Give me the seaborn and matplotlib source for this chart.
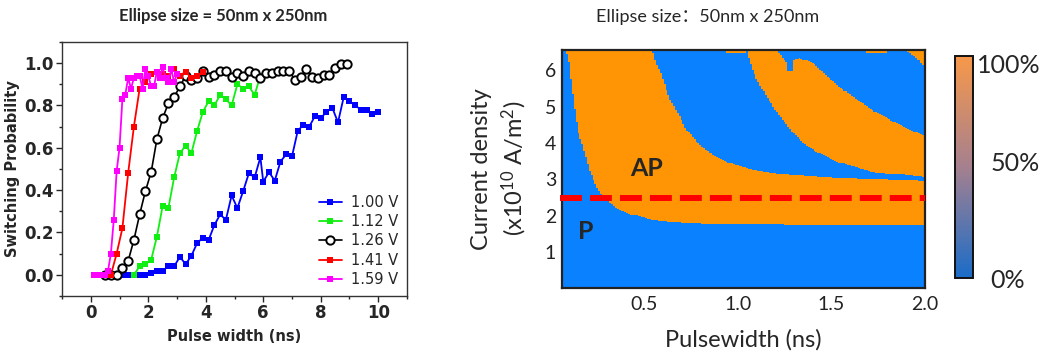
import numpy as np
import matplotlib
matplotlib.use('Agg')
import matplotlib.pyplot as plt
from matplotlib.colors import ListedColormap, LinearSegmentedColormap
from matplotlib.ticker import MultipleLocator, FixedLocator
import matplotlib.cm as cm
import seaborn as sns

sns.set_style('ticks')
plt.rcParams['font.family'] = ['DejaVu Sans']
plt.rcParams['mathtext.default'] = 'regular'

# ---- linker Teil: Schaltwahrscheinlichkeit ----
x_100 = list(np.round(np.arange(0.7, 5.95, 0.2), 1)) + list(np.round(np.arange(6.0, 10.05, 0.2), 1))
p_100 = [0, 0, 0, 0, 0, 0, 0, 0.01, 0.02, 0.02, 0.04, 0.04, 0.085, 0.05, 0.09, 0.15, 0.175,
         0.165, 0.235, 0.285, 0.26, 0.375, 0.315, 0.395, 0.48, 0.46, 0.555,
         0.44, 0.485, 0.445, 0.535, 0.57, 0.56, 0.68, 0.71, 0.70, 0.75, 0.74, 0.77, 0.79,
         0.72, 0.84, 0.82, 0.80, 0.78, 0.78, 0.76, 0.77]
x_112 = np.round(np.arange(1.5, 5.95, 0.2), 1)
p_112 = [0, 0.04, 0.05, 0.07, 0.18, 0.325, 0.315, 0.46, 0.575, 0.61, 0.575, 0.68, 0.77,
         0.82, 0.80, 0.85, 0.83, 0.80, 0.90, 0.88, 0.89, 0.85, 0.94]
x_126 = np.round(np.arange(0.5, 8.95, 0.2), 1)
p_126 = [0, 0, 0, 0.03, 0.065, 0.165, 0.285, 0.395, 0.485, 0.64, 0.74, 0.81, 0.84, 0.89,
         0.94, 0.92, 0.93, 0.965, 0.935, 0.945, 0.965, 0.965, 0.935, 0.955, 0.94, 0.965,
         0.955, 0.93, 0.955, 0.955, 0.965, 0.965, 0.965, 0.92, 0.935, 0.97, 0.935, 0.93,
         0.945, 0.945, 0.975, 0.995, 0.995]
x_141 = np.round(np.arange(0.1, 3.95, 0.2), 1)
p_141 = [0, 0, 0, 0, 0.10, 0.22, 0.48, 0.70, 0.88, 0.91, 0.95, 0.96, 0.95, 0.94, 0.97,
         0.94, 0.96, 0.93, 0.94, 0.96]
x_159 = np.round(np.arange(0.1, 3.05, 0.1), 1)
p_159 = [0, 0, 0, 0, 0, 0.02, 0.10, 0.26, 0.49, 0.60, 0.83, 0.85, 0.93, 0.88, 0.93,
         0.94, 0.94, 0.88, 0.97, 0.94, 0.89, 0.89, 0.96, 0.93, 0.98, 0.93, 0.91, 0.97,
         0.91, 0.95]

labels = ['1.00 V', '1.12 V', '1.26 V', '1.41 V', '1.59 V']
colors = ['#0000ff', '#11ee11', '#000000', '#ff0000', '#ff00ff']

# ---- rechter Teil: Phasendiagramm (Grenzkurven J(x)) ----
b1_x = [0.083, 0.10, 0.128, 0.148, 0.185, 0.205, 0.24, 0.268, 0.35, 0.44, 0.546, 0.67, 0.8, 1.0, 1.5, 2.0]
b1_J = [6.6, 6.2, 5.0, 4.3, 3.72, 3.31, 2.85, 2.63, 2.21, 2.03, 1.89, 1.83, 1.80, 1.78, 1.77, 1.76]
b2_x = [0.546, 0.554, 0.59, 0.635, 0.70, 0.72, 0.795, 0.866, 0.955, 1.08, 1.26, 1.535, 2.0]
b2_J = [6.6, 6.33, 5.92, 5.23, 4.64, 4.41, 3.95, 3.68, 3.45, 3.27, 3.13, 3.04, 2.97]
b3_x = [1.045, 1.07, 1.106, 1.16, 1.22, 1.29, 1.36, 1.45, 1.535, 1.72, 2.0]
b3_J = [6.6, 6.15, 5.69, 5.23, 4.77, 4.32, 3.95, 3.68, 3.48, 3.21, 3.07]
b4_x = [1.20, 1.26, 1.272, 1.29, 1.30, 1.33, 1.40, 1.47, 1.54, 1.72, 1.90, 2.0]
b4_J = [6.6, 6.2, 5.95, 5.95, 6.3, 6.33, 6.2, 5.87, 5.55, 4.9, 4.4, 4.2]
corner_x = [1.88, 1.95, 2.0]
corner_J = [6.6, 6.35, 6.1]
strip_x0 = [0.94, 1.69]
strip_x1 = [1.04, 1.79]
strip_J = [6.47, 6.47]

pw = np.linspace(0.05, 2.0, 196)
jj = np.linspace(0.0, 6.6, 265)

fig = plt.figure(figsize=(10.53, 3.6), dpi=100)

# ================= linkes Diagramm =================
ax1 = fig.add_axes([0.0589, 0.1778, 0.3276, 0.7056])
series = [(x_100, p_100), (x_112, p_112), (x_126, p_126), (x_141, p_141), (x_159, p_159)]
for (xs, ps), lab, c in zip(series, labels, colors):
    if lab == '1.26 V':
        sns.lineplot(x=xs, y=ps, ax=ax1, color=c, linewidth=1.2, marker='o', markersize=6,
                     markerfacecolor='white', markeredgecolor=c, markeredgewidth=1.4,
                     label=lab, estimator=None, sort=False)
    else:
        sns.lineplot(x=xs, y=ps, ax=ax1, color=c, linewidth=1.3, marker='s', markersize=4.8,
                     markerfacecolor=c, markeredgecolor=c, markeredgewidth=0,
                     label=lab, estimator=None, sort=False)

ax1.set_xlim(-1, 11)
ax1.set_ylim(-0.1, 1.1)
ax1.set_xticks([0, 2, 4, 6, 8, 10])
ax1.set_xticklabels(['0', '2', '4', '6', '8', '10'], fontweight='bold')
ax1.xaxis.set_minor_locator(FixedLocator([-1, 1, 3, 5, 7, 9, 11]))
ax1.set_yticks([0, 0.2, 0.4, 0.6, 0.8, 1.0])
ax1.set_yticklabels(['0.0', '0.2', '0.4', '0.6', '0.8', '1.0'], fontweight='bold')
ax1.yaxis.set_minor_locator(MultipleLocator(0.1))
ax1.tick_params(axis='both', which='major', direction='out', length=4, width=1, labelsize=12, pad=2)
ax1.tick_params(axis='both', which='minor', direction='out', length=2.5, width=1)
for sp in ax1.spines.values():
    sp.set_visible(True)
    sp.set_color('#333333')
    sp.set_linewidth(1.0)
ax1.set_xlabel('Pulse width (ns)', fontsize=10.5, fontweight='bold', labelpad=5)
ax1.set_ylabel('Switching Probability', fontsize=10.5, fontweight='bold', labelpad=3)
ax1.legend(loc='lower right', frameon=False, fontsize=10.5, handlelength=1.6,
           handletextpad=0.6, labelspacing=0.3, borderaxespad=0.2)
fig.text(223 / 1053, 1 - 16 / 360, 'Ellipse size = 50nm x 250nm', family='Lato',
         fontweight='bold', fontsize=12, ha='center', va='center')

# ================= rechtes Diagramm =================
ax2 = fig.add_axes([0.5334, 0.2008, 0.3450, 0.6603])
b1 = np.interp(pw, b1_x, b1_J, left=99)
b2 = np.interp(pw, b2_x, b2_J, left=99)
b3 = np.interp(pw, b3_x, b3_J, left=99)
b4 = np.interp(pw, b4_x, b4_J, left=99)
b5 = np.interp(pw, corner_x, corner_J, left=99)
J = jj[:, None]
state = ((J >= b1) & (J < b2)) | ((J >= b3) & (J < b4)) | (J >= b5)
for x0, x1, js in zip(strip_x0, strip_x1, strip_J):
    state |= (J >= js) & (pw >= x0) & (pw <= x1)

map_cmap = ListedColormap(['#0a82ff', '#ff9505'])
ax2.pcolormesh(pw, jj, state.astype(float), cmap=map_cmap, vmin=0, vmax=1, shading='nearest')
ax2.plot([0.05, 2.0], [2.5, 2.5], color='#ff0000', linewidth=4.3,
         linestyle=(0, (3.67, 1.35)), clip_on=False, zorder=5)
ax2.text(0.515, 3.29, 'AP', family='Lato', fontweight='bold', fontsize=18, ha='center', va='center')
ax2.text(0.19, 1.58, 'P', family='Lato', fontweight='bold', fontsize=18, ha='center', va='center')

ax2.set_xlim(0.06, 2.0)
ax2.set_ylim(0.03, 6.55)
ax2.set_xticks([0.5, 1.0, 1.5, 2.0])
ax2.set_xticklabels(['0.5', '1.0', '1.5', '2.0'], family='Lato')
ax2.set_yticks([1, 2, 3, 4, 5, 6])
ax2.set_yticklabels(['1', '2', '3', '4', '5', '6'], family='Lato')
ax2.tick_params(axis='both', direction='in', length=5, width=1.2, labelsize=14,
                top=True, right=True, colors='#222222')
ax2.tick_params(axis='x', pad=6)
ax2.tick_params(axis='y', pad=4)
for sp in ax2.spines.values():
    sp.set_color('#222222')
    sp.set_linewidth(1.6)
ax2.set_xlabel('Pulsewidth (ns)', family='Lato', fontsize=17, va='top')
ax2.xaxis.set_label_coords(0.5, -0.175)
ax2.set_ylabel('Current density\n(x10$^{10}$ A/m$^{2}$)', family='Lato', fontsize=17, linespacing=1.35)
ax2.yaxis.set_label_coords(-0.09, 0.5)
fig.text(708 / 1053, 1 - 17 / 360, 'Ellipse size：50nm x 250nm', family=['Lato', 'Noto Sans CJK SC'],
         fontsize=13, ha='center', va='center')

# Farbskala
cax = fig.add_axes([0.9069, 0.2269, 0.0174, 0.6183])
grad_cmap = LinearSegmentedColormap.from_list('grad', ['#1a6cc8', '#a5808f', '#f7984a'])
cb = fig.colorbar(cm.ScalarMappable(norm=plt.Normalize(0, 1), cmap=grad_cmap), cax=cax)
cb.set_ticks([])
cb.outline.set_linewidth(1.4)
cb.outline.set_edgecolor('#111111')
cax.text(1.21, 0.954, '100%', transform=cax.transAxes, family='Lato', fontsize=18, va='center', ha='left')
cax.text(1.95, 0.518, '50%', transform=cax.transAxes, family='Lato', fontsize=18, va='center', ha='left')
cax.text(1.95, -0.008, '0%', transform=cax.transAxes, family='Lato', fontsize=18, va='center', ha='left')

fig.savefig('out.png', dpi=100)
